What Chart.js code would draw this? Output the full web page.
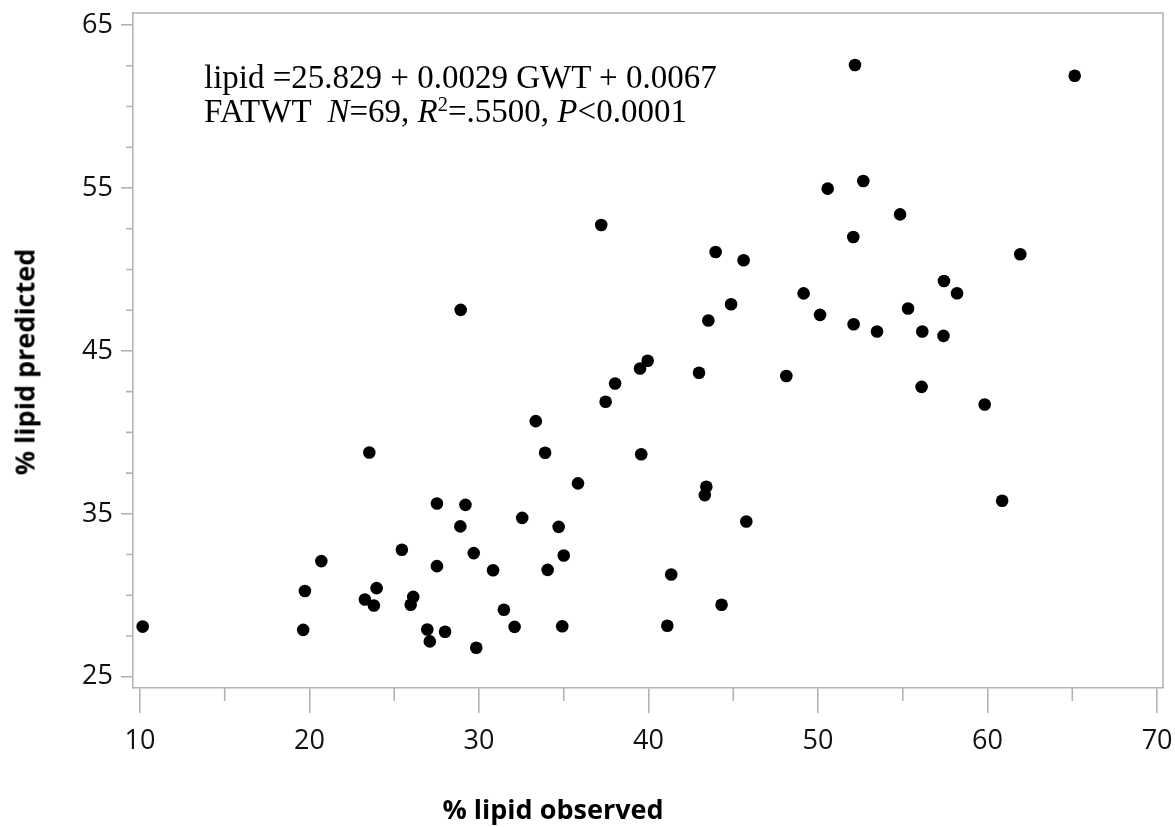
<!DOCTYPE html>
<html><head><meta charset="utf-8">
<script src="https://cdn.jsdelivr.net/npm/chart.js@4.4.1/dist/chart.umd.min.js"></script>
<style>
html,body{margin:0;padding:0;background:#fff;}
#wrap{position:relative;width:1175px;height:827px;overflow:hidden;}
#c{position:absolute;left:0;top:0;}
.note{position:absolute;left:204px;top:60px;font-family:"Liberation Serif","Times New Roman",serif;font-size:33px;line-height:34px;color:#000;white-space:pre;}
.note sup{font-size:0.62em;line-height:0;vertical-align:0.55em;}
.xtitle{position:absolute;left:553px;top:795px;transform:translateX(-50%);font-family:"Open Sans",sans-serif;font-weight:bold;font-size:27px;line-height:27px;color:#000;white-space:nowrap;}
.ytitle{position:absolute;left:24px;top:362px;transform:translate(-50%,-50%) rotate(-90deg);font-family:"Open Sans",sans-serif;font-weight:bold;font-size:27px;line-height:27px;color:#000;white-space:nowrap;}
</style></head>
<body>
<div id="wrap">
<canvas id="c" width="1175" height="827"></canvas>
<div class="note">lipid =25.829 + 0.0029 GWT + 0.0067
FATWT  <i>N</i>=69, <i>R</i><sup>2</sup>=.5500, <i>P</i>&lt;0.0001</div>
<div class="xtitle">% lipid observed</div>
<div class="ytitle">% lipid predicted</div>
</div>
<script>
const observed = [10.16,19.63,19.73,20.70,25.45,23.96,23.27,23.80,26.12,25.97,
  26.95,27.10,38.03,37.47,33.35,33.90,39.57,35.84,43.41,43.32,
  27.52,29.20,28.90,32.55,34.70,45.77,29.69,35.00,27.52,30.83,
  34.05,41.34,44.31,31.47,28.00,29.84,32.10,34.91,41.11,23.53,
  37.21,28.92,39.95,39.50,50.57,52.67,54.84,52.08,43.96,45.61,
  49.15,44.87,43.53,50.12,52.10,53.48,55.31,56.15,42.98,48.13,
  56.11,52.18,65.14,61.93,57.43,58.20,57.40,59.83,60.86];
const predicted = [28.08,27.88,30.26,32.10,32.80,30.44,29.74,29.37,29.90,29.42,
  27.90,27.17,43.00,41.88,40.69,38.75,38.66,36.87,36.66,36.15,
  35.63,35.55,34.23,34.75,34.20,34.53,32.59,32.44,31.79,31.54,
  31.56,31.28,29.42,29.11,27.76,26.78,28.06,28.10,28.13,38.76,
  52.73,47.52,44.40,43.92,54.96,55.43,53.38,51.99,51.07,50.56,
  48.53,47.86,46.87,47.21,46.64,46.19,47.60,46.19,43.66,43.46,
  42.79,62.55,61.89,50.93,49.29,48.54,45.92,41.71,35.80];
const xMajorTicks = [10,20,30,40,50,60,70];
const xMinorTicks = [15,25,35,45,55,65];
const yMajorTicks = [25,35,45,55,65];
const yMinorTicks = [27.5,30,32.5,37.5,40,42.5,47.5,50,52.5,57.5,60,62.5];

const AXIS_COLOR = '#b0b4b8';
const tickFont = {family:'"Open Sans", sans-serif', size:27};

const framePlugin = {
  id:'frame',
  beforeDatasetsDraw(chart){
    const {ctx, chartArea:a, scales:{x,y}} = chart;
    ctx.save();
    ctx.strokeStyle = AXIS_COLOR;
    ctx.lineWidth = 1.6;
    ctx.beginPath();
    ctx.moveTo(a.left, a.top); ctx.lineTo(a.right, a.top); ctx.lineTo(a.right, a.bottom);
    xMinorTicks.forEach(v=>{const px=x.getPixelForValue(v); ctx.moveTo(px,a.bottom); ctx.lineTo(px,a.bottom+13);});
    yMinorTicks.forEach(v=>{const py=y.getPixelForValue(v); ctx.moveTo(a.left,py); ctx.lineTo(a.left-7,py);});
    ctx.stroke();
    ctx.restore();
  }
};

new Chart(document.getElementById('c'), {
  type:'scatter',
  data:{datasets:[{
    data: observed.map((v,i)=>({x:v, y:predicted[i]})),
    backgroundColor:'#000', borderColor:'#000', borderWidth:0,
    pointRadius:6.3, pointHoverRadius:6.3
  }]},
  options:{
    responsive:false, animation:false,
    layout:{padding:{top:13, right:12, left:0, bottom:0}},
    plugins:{legend:{display:false}, tooltip:{enabled:false}},
    scales:{
      x:{type:'linear', position:'bottom', min:9.59, max:70.35,
        afterBuildTicks(s){ s.ticks = xMajorTicks.map(v=>({value:v})); },
        afterFit(s){ s.height = 139; s.paddingLeft = 0; s.paddingRight = 0; },
        grid:{drawOnChartArea:false, drawTicks:true, tickLength:25, color:AXIS_COLOR, lineWidth:1.6},
        border:{display:true, color:AXIS_COLOR, width:1.6},
        ticks:{font:tickFont, color:'#111', padding:12, maxRotation:0, autoSkip:false}
      },
      y:{type:'linear', position:'left', min:24.31, max:65.74,
        afterBuildTicks(s){ s.ticks = yMajorTicks.map(v=>({value:v})); },
        afterFit(s){ s.width = 133; s.paddingTop = 0; s.paddingBottom = 0; },
        grid:{drawOnChartArea:false, drawTicks:true, tickLength:12, color:AXIS_COLOR, lineWidth:1.6},
        border:{display:true, color:AXIS_COLOR, width:1.6},
        ticks:{font:tickFont, color:'#111', padding:8, autoSkip:false}
      }
    }
  },
  plugins:[framePlugin]
});
</script>
</body></html>
